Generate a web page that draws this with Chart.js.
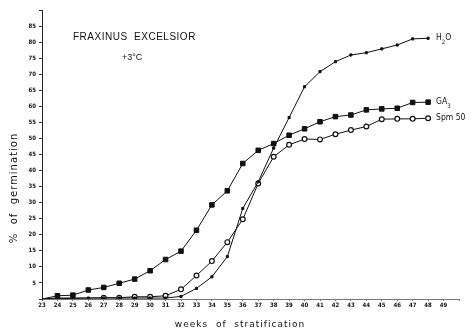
<!DOCTYPE html>
<html>
<head>
<meta charset="utf-8">
<script src="https://cdn.jsdelivr.net/npm/chart.js@4/dist/chart.umd.min.js"></script>
<style>
  body { margin: 0; background: #fff; }
  #wrap { width: 474px; height: 333px; position: relative; }
</style>
</head>
<body>
<div id="wrap"><canvas id="chart"></canvas></div>
<script>
// weeks of stratification
var weeks = [23, 24, 25, 26, 27, 28, 29, 30, 31, 32, 33, 34, 35, 36, 37, 38, 39, 40, 41, 42, 43, 44, 45, 46, 47, 48];
// % of germination
var h2o = [0, 0.3, 0.3, 0.3, 0.3, 0.3, 0.3, 0.3, 0.3, 0.8, 3.3, 6.9, 13.2, 28.2, 36.5, 47, 56.5, 66.1, 70.8, 73.9, 76, 76.7, 77.9, 79.1, 81, 81.2];
var ga3 = [0, 1.0, 1.2, 2.8, 3.6, 4.9, 6.2, 8.8, 12.3, 14.9, 21.4, 29.3, 33.7, 42.2, 46.3, 48.4, 51, 53, 55.2, 56.8, 57.3, 58.9, 59.2, 59.4, 61.2, 61.3];
var spm50 = [0, null, null, null, 0.4, 0.4, 0.7, 0.7, 1.0, 3.0, 7.3, 11.8, 17.7, 24.8, 36, 44.3, 48, 49.8, 49.7, 51.3, 52.6, 53.7, 56, 56.1, 56.1, 56.3];

var seriesNames = ['H2O', 'GA3', 'Spm 50'];
var seriesLabels = [['H', '2', 'O'], ['GA', '3', ''], ['Spm 50', '', '']];
var chartTitle = 'FRAXINUS  EXCELSIOR';
var chartSubtitle = '+3°C';
var xTitle = 'weeks  of  stratification';
var yTitle = '%  of  germination';

function pts(values) {
    return weeks.map(function (w, i) { return { x: w, y: values[i] }; });
}

function hideFirst(r) {
    return function (ctx) { return ctx.dataIndex === 0 ? 0 : r; };
}

// titles and end-of-line labels
var annotations = {
    id: 'annotations',
    afterDatasetsDraw: function (chart) {
        var c = chart.ctx;
        var xs = chart.scales.x, ys = chart.scales.y;
        c.save();
        c.fillStyle = '#111';
        c.textBaseline = 'middle';
        c.font = '10px "Liberation Sans"';
        c.letterSpacing = '0.5px';
        c.fillText(chartTitle, 73, 37);
        c.letterSpacing = '0px';
        c.font = '9px "Liberation Sans"';
        c.fillText(chartSubtitle, 122, 58);

        // axis titles
        c.textAlign = 'center';
        c.font = '9px "DejaVu Sans"';
        c.letterSpacing = '1px';
        c.fillText(xTitle, 240, 325);
        c.save();
        c.translate(14, 188);
        c.rotate(-Math.PI / 2);
        c.font = '10px "DejaVu Sans"';
        c.fillText(yTitle, 0, 0);
        c.restore();
        c.letterSpacing = '0px';
        c.textAlign = 'left';

        chart.data.datasets.forEach(function (ds, i) {
            var last = ds.data[ds.data.length - 1];
            var x = xs.getPixelForValue(last.x) + 8;
            var y = ys.getPixelForValue(last.y);
            var parts = seriesLabels[i];
            c.font = '8.5px "DejaVu Sans Condensed"';
            c.fillText(parts[0], x, y);
            var w = c.measureText(parts[0]).width;
            if (parts[1]) {
                c.font = '6px "DejaVu Sans Condensed"';
                c.fillText(parts[1], x + w, y + 4);
                w += c.measureText(parts[1]).width;
                c.font = '8.5px "DejaVu Sans Condensed"';
                c.fillText(parts[2], x + w, y);
            }
        });
        c.restore();
    }
};

new Chart(document.getElementById('chart'), {
    type: 'line',
    data: {
        datasets: [{
            label: seriesNames[0],
            data: pts(h2o),
            borderColor: '#111',
            backgroundColor: '#111',
            borderWidth: 1,
            pointStyle: 'rect',
            pointRadius: hideFirst(1.5),
            tension: 0,
            spanGaps: true
        }, {
            label: seriesNames[1],
            data: pts(ga3),
            borderColor: '#111',
            backgroundColor: '#111',
            borderWidth: 1,
            pointStyle: 'rect',
            pointRadius: hideFirst(3.2),
            tension: 0,
            spanGaps: true
        }, {
            label: seriesNames[2],
            data: pts(spm50),
            borderColor: '#111',
            backgroundColor: '#fff',
            borderWidth: 1,
            pointBorderWidth: 1.2,
            pointStyle: 'circle',
            pointRadius: hideFirst(2.4),
            tension: 0,
            spanGaps: true
        }]
    },
    options: {
        responsive: true,
        maintainAspectRatio: false,
        animation: false,
        layout: { padding: { left: 0, right: 15, top: 10, bottom: 0 } },
        plugins: {
            legend: { display: false },
            tooltip: { enabled: false }
        },
        scales: {
            x: {
                type: 'linear',
                min: 23,
                max: 50,
                afterFit: function (s) { s.height = 34; },
                ticks: {
                    stepSize: 1,
                    autoSkip: false,
                    maxRotation: 0,
                    padding: 1,
                    color: '#111',
                    font: { family: 'DejaVu Sans Condensed', size: 6, weight: 'bold' },
                    callback: function (v) { return v === 50 ? '' : v; }
                },
                grid: { drawOnChartArea: false, drawTicks: true, tickLength: 2, color: '#777' },
                border: { display: true, color: '#777', width: 1 }
            },
            y: {
                min: 0,
                max: 90,
                afterFit: function (s) { s.width = 42; },
                ticks: {
                    stepSize: 5,
                    padding: 3,
                    color: '#111',
                    font: { family: 'DejaVu Sans Condensed', size: 6, weight: 'bold' },
                    callback: function (v) { return (v === 0 || v === 90) ? '' : v; }
                },
                grid: { drawOnChartArea: false, drawTicks: true, tickLength: 3, color: '#333' },
                border: { display: true, color: '#222', width: 1 }
            }
        }
    },
    plugins: [annotations]
});
</script>
</body>
</html>
